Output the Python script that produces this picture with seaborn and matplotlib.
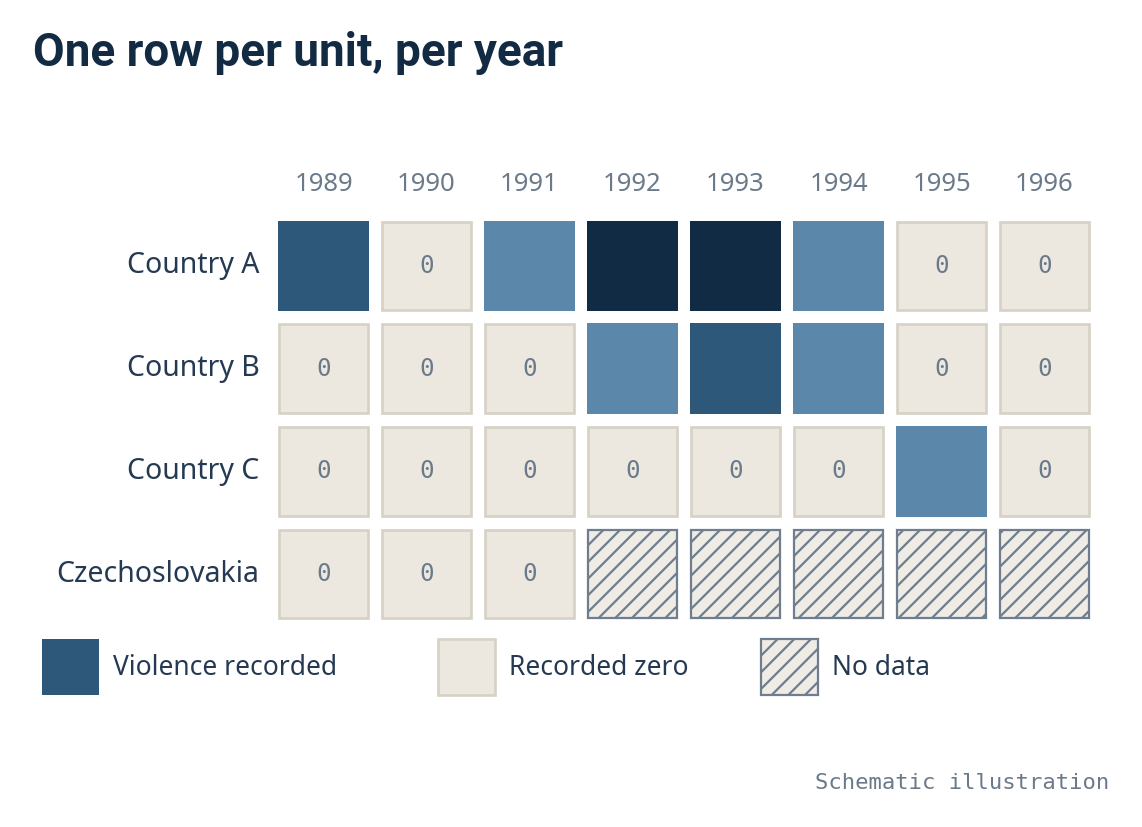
"""
Panel layout: one row per unit, per year, with recorded zeros vs. missing data.
"""

import numpy as np
import pandas as pd
import matplotlib
matplotlib.use("Agg")
import matplotlib.pyplot as plt
from matplotlib.colors import ListedColormap
from matplotlib.patches import Rectangle, Patch
import seaborn as sns

# --- data ---------------------------------------------------------------
years = [1989, 1990, 1991, 1992, 1993, 1994, 1995, 1996]
units = ["Country A", "Country B", "Country C", "Czechoslovakia"]

# intensity level: 0 = recorded zero, 1-3 = violence (light -> dark), nan = no data
country_a = [2, 0, 1, 3, 3, 1, 0, 0]
country_b = [0, 0, 0, 1, 2, 1, 0, 0]
country_c = [0, 0, 0, 0, 0, 0, 1, 0]
czechoslovakia = [0, 0, 0, np.nan, np.nan, np.nan, np.nan, np.nan]

legend_labels = ["Violence recorded", "Recorded zero", "No data"]

# --- styling ------------------------------------------------------------
NAVY = "#132a43"
TEXT = "#253a52"
GREY = "#6b7a8a"
ZERO_FILL = "#ece8df"
ZERO_EDGE = "#d6d1c4"
NODATA_FILL = "#efece5"
NODATA_EDGE = "#6e7e8e"
LEVELS = ["#5b87aa", "#2d5879", "#122b45"]

sns.set_theme(style="white")
plt.rcParams["font.family"] = ["Noto Sans", "DejaVu Sans"]
plt.rcParams["hatch.linewidth"] = 1.6
plt.rcParams["hatch.color"] = NODATA_EDGE

df = pd.DataFrame([country_a, country_b, country_c, czechoslovakia],
                  index=units, columns=years)

fig = plt.figure(figsize=(11.42, 8.27), dpi=100)
ax = fig.add_axes([0.2382, 0.2438, 0.9597 - 0.2382, 0.7405 - 0.2438])

mask = ~(df > 0)
sns.heatmap(df, mask=mask, cmap=ListedColormap(LEVELS), vmin=0.5, vmax=3.5,
            cbar=False, linewidths=8.64, linecolor="white", square=False,
            xticklabels=years, yticklabels=units, ax=ax)

# recorded zeros and missing cells drawn on top as framed squares
px_x = 103.0
inset = 7.0 / px_x
w = 1 - 2 * inset
for i, unit in enumerate(units):
    for j, yr in enumerate(years):
        v = df.loc[unit, yr]
        if pd.isna(v):
            ax.add_patch(Rectangle((j + inset, i + inset), w, w,
                                   facecolor=NODATA_FILL, edgecolor=NODATA_EDGE,
                                   hatch="//", lw=1.6, zorder=3))
        elif v == 0:
            ax.add_patch(Rectangle((j + inset, i + inset), w, w,
                                   facecolor=ZERO_FILL, edgecolor=ZERO_EDGE,
                                   lw=1.9, zorder=3))
            ax.text(j + 0.5, i + 0.5, "0", ha="center", va="center",
                    family="DejaVu Sans Mono", fontsize=17.5, color=GREY, zorder=4)

ax.xaxis.tick_top()
ax.tick_params(axis="x", length=0, pad=13, labelsize=18.5, labelcolor=GREY)
ax.tick_params(axis="y", length=0, pad=9, labelsize=20.5, labelcolor=TEXT)
plt.setp(ax.get_yticklabels(), rotation=0)
plt.setp(ax.get_xticklabels(), rotation=0)
ax.set_xlabel("")
ax.set_ylabel("")
for s in ax.spines.values():
    s.set_visible(False)

# --- legend (one entry per block, fixed positions) -----------------------
handles = [
    Patch(facecolor=LEVELS[1], edgecolor=LEVELS[1], lw=0),
    Patch(facecolor=ZERO_FILL, edgecolor=ZERO_EDGE, lw=1.9),
    Patch(facecolor=NODATA_FILL, edgecolor=NODATA_EDGE, hatch="//", lw=1.6),
]
legend_x = [42, 438, 761]
for h, lab, x0 in zip(handles, legend_labels, legend_x):
    leg = fig.legend([h], [lab], loc="center left",
                     bbox_to_anchor=(x0 / 1142, 1 - 667 / 827),
                     frameon=False, fontsize=19, handlelength=2.15,
                     handleheight=2.85, handletextpad=0.55,
                     borderaxespad=0, borderpad=0)
    for t in leg.get_texts():
        t.set_color(TEXT)

# --- title & footer -----------------------------------------------------
fig.text(33 / 1142, 1 - 66 / 827, "One row per unit, per year",
         family=["Roboto", "DejaVu Sans"], fontsize=33, fontweight="bold",
         color=NAVY, va="baseline", ha="left")
fig.text(1109 / 1142, 1 - 783 / 827, "Schematic illustration",
         family="DejaVu Sans Mono", fontsize=16, color=GREY,
         ha="right", va="center")

fig.savefig("out.png", dpi=100, facecolor="white")
